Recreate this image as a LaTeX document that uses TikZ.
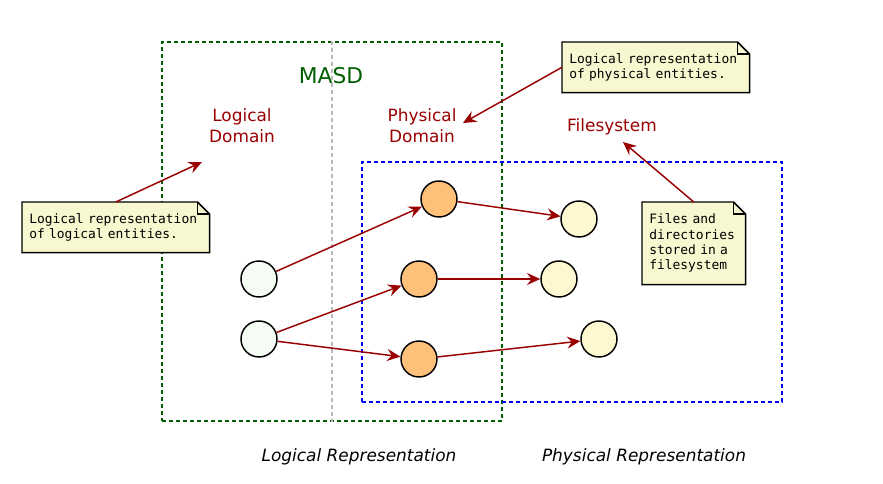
\documentclass[tikz,border=0pt]{standalone}
\usepackage{fontspec}
\setmainfont{DejaVu Sans}
\setmonofont{DejaVu Sans Mono}
\usepackage{tikz}
\usetikzlibrary{arrows.meta}
\definecolor{masdgreen}{RGB}{0,95,0}
\definecolor{labelred}{RGB}{153,0,0}
\definecolor{logfill}{RGB}{244,252,244}
\definecolor{physfill}{RGB}{255,192,122}
\definecolor{filefill}{RGB}{253,248,208}
\definecolor{notefill}{RGB}{248,248,208}
\tikzset{every node/.style={font=\fontsize{12.7}{15.5}\selectfont}}

\newcommand{\notefont}{\ttfamily\fontsize{9.7}{11.5}\selectfont\spaceskip=0.602em\relax}
\newcommand{\dogear}[1]{%
\fill[white] ([xshift=-9pt]#1.north east) -- ([xshift=1pt,yshift=1pt]#1.north east) -- ([yshift=-9pt]#1.north east) -- cycle;
\draw[line width=1.1pt] (#1.south west) -- (#1.north west) -- ([xshift=-9pt]#1.north east) -- ([yshift=-9pt]#1.north east) -- (#1.south east) -- cycle;
\draw[line width=0.8pt] ([xshift=-9pt]#1.north east) |- ([yshift=-9pt]#1.north east);
}

\begin{document}
\begin{tikzpicture}[x=0.75pt, y=-0.75pt,
logical/.style={circle, draw, line width=1.1pt, fill=logfill, minimum size=27pt, inner sep=0pt},
physical/.style={logical, fill=physfill},
fileobj/.style={logical, fill=filefill},
area/.style={draw, line width=1.4pt, dash pattern=on 3pt off 2.25pt, inner sep=0pt},
domainlabel/.style={text=labelred, align=center},
link/.style={draw=labelred, line width=1.1pt, -{Stealth[length=10pt, width=9pt, inset=3.5pt]}},
notebox/.style={fill=notefill, anchor=north west, align=left, inner xsep=5.25pt, font=\notefont}]

\useasboundingbox (0,0) rectangle (883,483);

\node[area, draw=masdgreen, minimum width=255pt, minimum height=284.25pt] (masd) at (332,231.5) {};
\node[area, draw=blue, minimum width=315pt, minimum height=180pt] (fsbox) at (572,282) {};
\draw[gray!55, line width=1.4pt, dash pattern=on 3pt off 2.25pt] (masd.north) -- (masd.south);

\node[text=masdgreen, font=\fontsize{16.3}{19}\selectfont] (title) at (331,76) {MASD};
\node[domainlabel] (logdom) at (242,126) {Logical\\Domain};
\node[domainlabel] (physdom) at (422,126) {Physical\\Domain};
\node[domainlabel] (fs) at (612,127) {Filesystem};
\node[font=\fontsize{12.7}{15.5}\selectfont\itshape] (logrep) at (359,457) {Logical Representation};
\node[font=\fontsize{12.7}{15.5}\selectfont\itshape] (physrep) at (644,457) {Physical Representation};

\node[logical] (l1) at (259,279) {};
\node[logical] (l2) at (259,339) {};
\node[physical] (p1) at (439,199) {};
\node[physical] (p2) at (419,279) {};
\node[physical] (p3) at (419,359) {};
\node[fileobj] (f1) at (579,219) {};
\node[fileobj] (f2) at (559,279) {};
\node[fileobj] (f3) at (599,339) {};

\draw[link] (l1) -- (p1);
\draw[link] (l2) -- (p2);
\draw[link] (l2) -- (p3);
\draw[link] (p1) -- (f1);
\draw[link] (p2) -- (f2);
\draw[link] (p3) -- (f3);

\node[notebox, text width=129.75pt, minimum height=37.5pt] (note1) at (22,202) {Logical representation\\of logical entities.};
\dogear{note1}
\node[notebox, text width=129.75pt, minimum height=37.5pt] (note2) at (562,42) {Logical representation\\of physical entities.};
\dogear{note2}
\node[notebox, text width=66.75pt, minimum height=61.5pt] (note3) at (642,202) {Files and\\directories\\stored in a\\filesystem};
\dogear{note3}

\coordinate (logtip) at (202,162);
\coordinate (phystip) at (463,123);
\coordinate (fstip) at (623,142);
\draw[link] (note1.north) -- (logtip);
\draw[link] (note2.west) -- (phystip);
\draw[link] (note3.north) -- (fstip);

\end{tikzpicture}
\end{document}
